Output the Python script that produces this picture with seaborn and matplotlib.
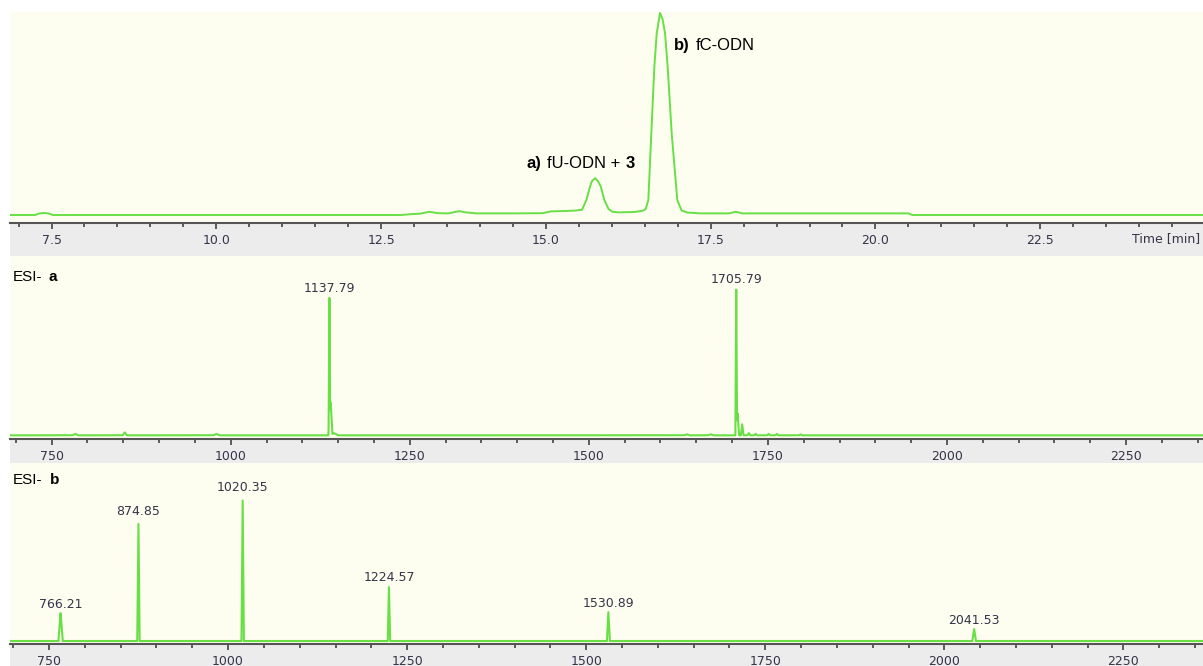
import numpy as np
import matplotlib
matplotlib.use("Agg")
import matplotlib.pyplot as plt
import seaborn as sns
from matplotlib.patches import Rectangle
from matplotlib.ticker import MultipleLocator, FixedLocator

# ---------------- data ----------------
rt_min = [6.87, 7.25, 7.32, 7.38, 7.45, 7.52, 12.80, 12.95, 13.10, 13.23, 13.36, 13.52,
          13.62, 13.69, 13.78, 13.95, 14.50, 14.95, 15.08, 15.30, 15.45, 15.55, 15.615,
          15.67, 15.70, 15.748, 15.79, 15.833, 15.888, 15.95, 16.01, 16.10, 16.35, 16.48,
          16.515, 16.555, 16.60, 16.646, 16.682, 16.732, 16.77, 16.808, 16.848, 16.909,
          16.994, 17.06, 17.15, 17.35, 17.78, 17.88, 17.98, 18.30, 20.50, 20.56, 24.97]
uv_signal = [0, 0, 0.8, 1.0, 0.8, 0, 0, 0.4, 0.7, 1.6, 0.9, 0.8,
             1.5, 1.9, 1.3, 0.8, 0.8, 0.9, 1.8, 2.0, 2.2, 2.6, 7.4,
             14.1, 16.8, 18.2, 16.8, 14.1, 7.4, 3.0, 1.6, 1.3, 1.5, 2.2,
             3.0, 7.4, 40.5, 73.4, 90, 100, 97, 90, 73.4, 40.5,
             7.4, 2.2, 1.2, 0.8, 0.8, 1.6, 0.8, 0.8, 0.8, 0, 0]

esi_a_mz = [783, 852, 980, 1137.79, 1138.3, 1139.6, 1144, 1637, 1670, 1705.79, 1707.6,
            1714.1, 1723.5, 1732.8, 1751, 1762.5, 1795.5]
esi_a_int = [1.0, 2.0, 1.0, 94.3, 28.6, 22.0, 1.5, 0.7, 0.7, 100, 15,
             7.5, 1.5, 1.0, 1.0, 1.0, 0.7]
esi_a_width = [4, 3, 4, 1.2, 2.0, 2.5, 6, 4, 4, 1.2, 2.2, 1.8, 2, 2, 2, 2, 2]
esi_a_labels = {1137.79: "1137.79", 1705.79: "1705.79"}

esi_b_mz = [766.21, 874.85, 1020.35, 1224.57, 1530.89, 2041.53]
esi_b_int = [19.3, 83.4, 100, 37.9, 20.0, 8.3]
esi_b_width = [3, 1.6, 1.6, 1.6, 2, 2.5]
esi_b_labels = ["766.21", "874.85", "1020.35", "1224.57", "1530.89", "2041.53"]

time_ticks = [7.5, 10.0, 12.5, 15.0, 17.5, 20.0, 22.5]
mz_ticks = [750, 1000, 1250, 1500, 1750, 2000, 2250]

# ---------------- style ----------------
sns.set_style("white")
plt.rcParams['font.family'] = ['DejaVu Sans']

W, H = 1203, 666
CREAM = '#fefef0'
GRAY = '#ececec'
GREEN = '#68e045'
TICKC = '#34344a'
AXC = '#555555'
ANNOT_FONT = ['Liberation Sans', 'DejaVu Sans']

fig = plt.figure(figsize=(W / 100, H / 100), dpi=100)
fig.patch.set_facecolor('white')


def px_axes(x0, y0, x1, y1):
    return fig.add_axes([x0 / W, 1 - y1 / H, (x1 - x0) / W, (y1 - y0) / H])


def gray_band(y0, y1):
    fig.patches.append(Rectangle((10 / W, 1 - y1 / H), (W - 10) / W, (y1 - y0) / H,
                                 transform=fig.transFigure, facecolor=GRAY,
                                 edgecolor='none', zorder=-1))


def style_axes(ax, xlim, ylim, major, minor_step, fmt):
    ax.set_facecolor(CREAM)
    ax.set_xlim(*xlim)
    ax.set_ylim(*ylim)
    ax.set_yticks([])
    ax.set_ylabel('')
    ax.set_xlabel('')
    for s in ['left', 'right', 'top']:
        ax.spines[s].set_visible(False)
    ax.spines['bottom'].set_color(AXC)
    ax.spines['bottom'].set_linewidth(1.5)
    ax.xaxis.set_major_locator(FixedLocator(major))
    ax.set_xticklabels([fmt(v) for v in major])
    ax.xaxis.set_minor_locator(MultipleLocator(minor_step))
    ax.tick_params(axis='x', which='both', bottom=True, top=False)
    ax.tick_params(axis='x', which='major', direction='out', length=4.5, width=1.1,
                   color='#333333', pad=3.5, labelsize=9, labelcolor=TICKC)
    ax.tick_params(axis='x', which='minor', direction='out', length=2.8, width=1.1,
                   color='#333333')


def ms_profile(mz, inten, width, lo, hi):
    grid = np.arange(lo, hi, 0.1)
    y = np.zeros_like(grid)
    for m, h, w in zip(mz, inten, width):
        y = np.maximum(y, h * np.clip(1 - np.abs(grid - m) / w, 0, None))
    return grid, y


def rich_label(ax, x, y, parts, size, coords='data', offset=None):
    """parts: list of (text, bold, gap_px)"""
    prev = None
    for text, bold, gap in parts:
        fw = 'bold' if bold else 'normal'
        if prev is None:
            if offset is None:
                prev = ax.text(x, y, text, fontsize=size, fontweight=fw,
                               family=ANNOT_FONT, va='center', ha='left', color='black')
            else:
                prev = ax.annotate(text, xy=(x, y), xycoords=coords, xytext=offset,
                                   textcoords='offset pixels', fontsize=size,
                                   fontweight=fw, family=ANNOT_FONT, va='center',
                                   ha='left', color='black')
        else:
            prev = ax.annotate(text, xy=(1, 0), xycoords=prev, xytext=(gap, 0),
                               textcoords='offset pixels', fontsize=size, fontweight=fw,
                               family=ANNOT_FONT, va='bottom', ha='left', color='black')
    return prev


# ---------------- top: chromatogram ----------------
gray_band(223, 256)
ax1 = px_axes(10, 12, W, 223)
sns.lineplot(x=rt_min, y=uv_signal, ax=ax1, color=GREEN, linewidth=1.4,
             estimator=None, sort=False)
style_axes(ax1, (6.87, 24.97), (-3.96, 100.5), time_ticks, 0.5, lambda v: f"{v:.1f}")
ax1.annotate('Time [min]', xy=(1, 0), xycoords='axes fraction', xytext=(-3, -16),
             textcoords='offset pixels', ha='right', va='center', fontsize=9,
             color=TICKC)
rich_label(ax1, 14.70, 25.7, [("a)", True, 0), ("fU-ODN +", False, 6), ("3", True, 5)], 12)
rich_label(ax1, 16.944, 83.7, [("b)", True, 0), ("fC-ODN", False, 6)], 12)

# ---------------- middle: ESI- a ----------------
gray_band(439, 463)
ax2 = px_axes(10, 256, W, 439)
gx, gy = ms_profile(esi_a_mz, esi_a_int, esi_a_width, 691.8, 2357.5)
sns.lineplot(x=gx, y=gy, ax=ax2, color=GREEN, linewidth=1.5, estimator=None, sort=False)
style_axes(ax2, (691.8, 2357.5), (-2.5, 122.0), mz_ticks, 50, lambda v: f"{v:d}")
for m, h in zip(esi_a_mz, esi_a_int):
    if m in esi_a_labels:
        ax2.annotate(esi_a_labels[m], xy=(m, h), xytext=(0, 2), textcoords='offset pixels',
                     ha='center', va='bottom', fontsize=9, color=TICKC)
rich_label(ax2, 0, 1, [("ESI-", False, 0), ("a", True, 6)], 11,
           coords='axes fraction', offset=(3, -21))

# ---------------- bottom: ESI- b ----------------
gray_band(644, 666)
ax3 = px_axes(10, 463, W, 644)
gx, gy = ms_profile(esi_b_mz, esi_b_int, esi_b_width, 695.6, 2361.0)
sns.lineplot(x=gx, y=gy, ax=ax3, color=GREEN, linewidth=1.5, estimator=None, sort=False)
style_axes(ax3, (695.6, 2361.0), (-2.07, 122.8), mz_ticks, 50, lambda v: f"{v:d}")
for m, h, lbl in zip(esi_b_mz, esi_b_int, esi_b_labels):
    ax3.annotate(lbl, xy=(m, h), xytext=(0, 2), textcoords='offset pixels',
                 ha='center', va='bottom', fontsize=9, color=TICKC)
rich_label(ax3, 0, 1, [("ESI-", False, 0), ("b", True, 7)], 11,
           coords='axes fraction', offset=(3, -17))

fig.savefig('out.png', dpi=100, facecolor='white')
